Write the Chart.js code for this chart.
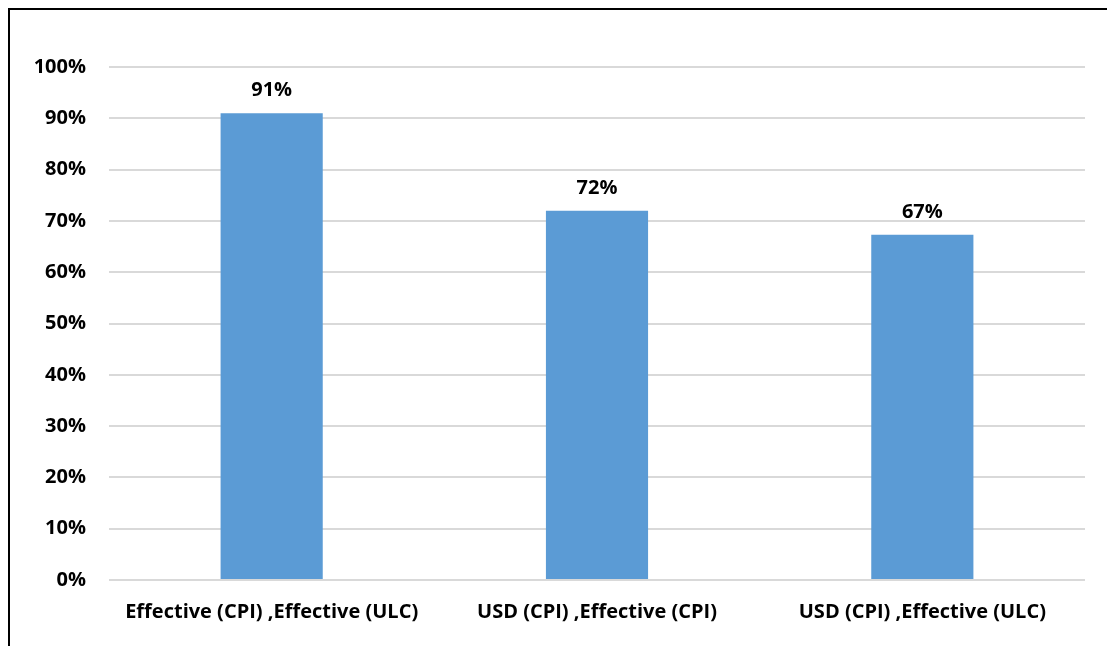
<!DOCTYPE html>
<html>
<head>
<meta charset="utf-8">
<script src="https://cdn.jsdelivr.net/npm/chart.js@4"></script>
<style>
  html, body { margin: 0; padding: 0; background: #fff; }
  #wrap { position: relative; width: 1107px; height: 646px; }
  #frame {
    position: absolute; left: 8px; top: 8px; right: 0; bottom: 0;
    border-top: 2px solid #000; border-left: 2px solid #000;
    pointer-events: none;
  }
</style>
</head>
<body>
<div id="wrap">
  <canvas id="barChart" width="1107" height="646"></canvas>
  <div id="frame"></div>
</div>
<script>
// catégories et valeurs (part en %)
const categories = ['Effective (CPI) ,Effective (ULC)', 'USD (CPI) ,Effective (CPI)', 'USD (CPI) ,Effective (ULC)'];
const values = [0.91, 0.72, 0.673];
const tickValues = [0, 0.1, 0.2, 0.3, 0.4, 0.5, 0.6, 0.7, 0.8, 0.9, 1];

const fontFamily = '"Open Sans", "Liberation Sans", sans-serif';

// étiquettes de valeur au-dessus des barres
const valueLabels = {
    id: 'valueLabels',
    afterDatasetsDraw(chart) {
        const ctx = chart.ctx;
        const meta = chart.getDatasetMeta(0);
        ctx.save();
        ctx.fillStyle = '#000';
        ctx.font = 'bold 20px ' + fontFamily;
        ctx.textAlign = 'center';
        ctx.textBaseline = 'alphabetic';
        meta.data.forEach((bar, i) => {
            ctx.fillText(Math.round(values[i] * 100) + '%', bar.x, bar.y - 17);
        });
        ctx.restore();
    }
};

const barData = {
    labels: categories,
    datasets: [{
        data: values,
        backgroundColor: '#5b9bd5',
        categoryPercentage: 1,
        barPercentage: 0.314
    }]
};

const barOptions = {
    responsive: false,
    animation: false,
    layout: { padding: { left: 0, right: 22, top: 67, bottom: 0 } },
    plugins: {
        legend: { display: false },
        tooltip: { enabled: false }
    },
    scales: {
        x: {
            grid: { display: false, drawTicks: false },
            border: { display: false },
            ticks: {
                color: '#000',
                padding: 20,
                maxRotation: 0,
                font: { family: fontFamily, size: 20, weight: 'bold' }
            },
            afterFit(scale) { scale.height = 66; }
        },
        y: {
            min: 0,
            max: 1,
            afterBuildTicks(scale) { scale.ticks = tickValues.map(v => ({ value: v })); },
            grid: { color: '#d9d9d9', lineWidth: 2, drawTicks: false },
            border: { display: false },
            ticks: {
                color: '#000',
                padding: 23,
                font: { family: fontFamily, size: 20, weight: 'bold' },
                callback: v => Math.round(v * 100) + '%'
            },
            afterFit(scale) { scale.width = 109; }
        }
    }
};

let barCanvas = document.getElementById('barChart');
let barCtx = barCanvas.getContext('2d');

const myBarChart = new Chart(barCtx, {
    type: 'bar',
    data: barData,
    options: barOptions,
    plugins: [valueLabels]
});
</script>
</body>
</html>
